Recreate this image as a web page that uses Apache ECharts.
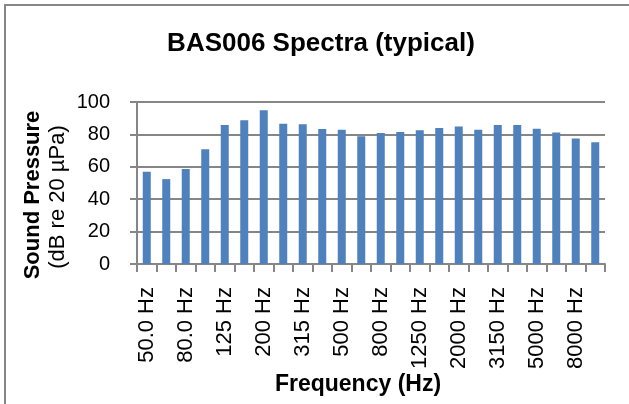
<!DOCTYPE html>
<html>
<head>
<meta charset="utf-8">
<script src="https://cdn.jsdelivr.net/npm/echarts@6/dist/echarts.min.js"></script>
<style>
html,body{margin:0;padding:0;background:#fff;}
#chart{width:629px;height:404px;}
</style>
</head>
<body>
<div id="chart"></div>
<script>
const categories = ["50.0 Hz","63.0 Hz","80.0 Hz","100 Hz","125 Hz","160 Hz","200 Hz","250 Hz","315 Hz","400 Hz","500 Hz","630 Hz","800 Hz","1000 Hz","1250 Hz","1600 Hz","2000 Hz","2500 Hz","3150 Hz","4000 Hz","5000 Hz","6300 Hz","8000 Hz","10000 Hz"];
const soundPressure = [57, 52.4, 58.7, 70.9, 85.8, 88.7, 94.9, 86.6, 86.3, 83.4, 82.9, 78.9, 80.9, 81.5, 82.5, 84, 84.8, 82.9, 85.8, 85.8, 83.5, 81.1, 77.4, 75.2];
const yTicks = { min: 0, max: 100, interval: 20 };
const titleText = "BAS006 Spectra (typical)";
const xTitle = "Frequency (Hz)";
const yTitle1 = "Sound Pressure";
const yTitle2 = "(dB re 20 \u00B5Pa)";

const FONT = "'Liberation Sans', Arial, sans-serif";
const GRID = "#868686";
const chart = echarts.init(document.getElementById('chart'), null, {renderer: 'canvas'});
chart.setOption({
  animation: false,
  textStyle: { fontFamily: FONT },
  grid: { left: 137, right: 24, top: 102, bottom: 140, containLabel: false },
  xAxis: {
    type: 'category',
    data: categories,
    axisLine: { show: true, lineStyle: { color: GRID, width: 2 } },
    axisTick: { show: true, interval: 0, length: 8, lineStyle: { color: GRID, width: 2 } },
    axisLabel: { interval: 1, rotate: 90, fontSize: 22, margin: 23, color: '#000', fontFamily: FONT }
  },
  yAxis: {
    type: 'value',
    min: yTicks.min, max: yTicks.max, interval: yTicks.interval,
    axisLine: { show: true, lineStyle: { color: GRID, width: 2 } },
    axisTick: { show: true, length: 7, lineStyle: { color: GRID, width: 2 } },
    axisLabel: { fontSize: 20, margin: 27, color: '#000', fontFamily: FONT, padding: [5, 0, 0, 0] },
    splitLine: { show: true, lineStyle: { color: GRID, width: 2 } }
  },
  series: [{
    type: 'bar',
    data: soundPressure,
    barWidth: 8,
    itemStyle: { color: '#4f81bd' }
  }],
  graphic: [
    { type: 'rect', shape: { x: 5, y: 5, width: 700, height: 500 }, style: { fill: 'none', stroke: GRID, lineWidth: 2 }, silent: true },
    { type: 'text', x: 321, y: 44, style: { text: titleText, font: "bold 26px " + FONT, fill: '#000', textAlign: 'center', textVerticalAlign: 'middle' } },
    { type: 'text', x: 358, y: 385, style: { text: xTitle, font: "bold 23px " + FONT, fill: '#000', textAlign: 'center', textVerticalAlign: 'middle' } },
    { type: 'text', x: 33, y: 195, rotation: Math.PI / 2, style: { text: yTitle1, font: "bold 22px " + FONT, fill: '#000', textAlign: 'center', textVerticalAlign: 'middle' } },
    { type: 'text', x: 58, y: 197, rotation: Math.PI / 2, style: { text: yTitle2, font: "22px " + FONT, fill: '#000', textAlign: 'center', textVerticalAlign: 'middle' } }
  ]
});
</script>
</body>
</html>
